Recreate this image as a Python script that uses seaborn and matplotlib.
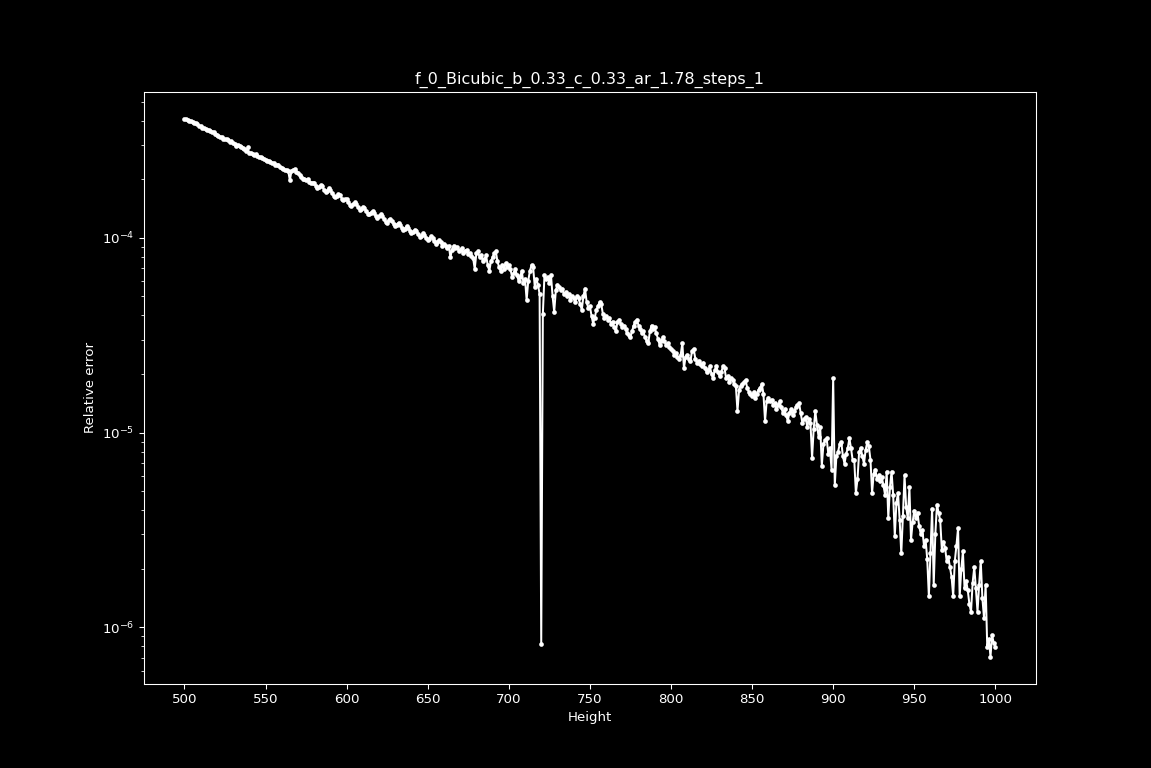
"""
Relative error vs height for the bicubic resize test (f_0, b=c=0.33).
"""
import numpy as np
import pandas as pd
import matplotlib
matplotlib.use("Agg")
import matplotlib.pyplot as plt
import seaborn as sns

# ---------------------------------------------------------
# Data (stored as log10 of relative error)
# one value per integer height, 500 .. 1000
# ---------------------------------------------------------
height_first = 500
height_last = 1000

log_err_500s = [
    -3.390, -3.392, -3.395, -3.398, -3.401, -3.405, -3.410, -3.412, -3.418, -3.424,
    -3.428, -3.436, -3.434, -3.442, -3.448, -3.446, -3.452, -3.458, -3.456, -3.466,
    -3.470, -3.478, -3.484, -3.482, -3.490, -3.494, -3.492, -3.500, -3.506, -3.504,
    -3.514, -3.520, -3.526, -3.522, -3.530, -3.536, -3.540, -3.544, -3.552, -3.536,
    -3.566, -3.562, -3.568, -3.574, -3.572, -3.580, -3.586, -3.584, -3.592, -3.596,
    -3.600, -3.606, -3.604, -3.612, -3.618, -3.616, -3.624, -3.628, -3.626, -3.634,
    -3.640, -3.646, -3.652, -3.650, -3.656, -3.705, -3.658, -3.652, -3.648, -3.660,
    -3.668, -3.676, -3.690, -3.698, -3.696, -3.704, -3.700, -3.712, -3.718, -3.716,
    -3.720, -3.732, -3.744, -3.740, -3.728, -3.736, -3.752, -3.764, -3.758, -3.746,
    -3.754, -3.770, -3.784, -3.792, -3.786, -3.774, -3.782, -3.798, -3.808, -3.802,
]
log_err_600s = [
    -3.800, -3.815, -3.830, -3.835, -3.828, -3.818, -3.826, -3.842, -3.856, -3.850,
    -3.840, -3.848, -3.862, -3.876, -3.880, -3.870, -3.862, -3.874, -3.890, -3.898,
    -3.890, -3.880, -3.888, -3.904, -3.918, -3.922, -3.910, -3.902, -3.914, -3.930,
    -3.940, -3.932, -3.922, -3.934, -3.950, -3.960, -3.952, -3.940, -3.948, -3.964,
    -3.976, -3.970, -3.958, -3.966, -3.982, -3.994, -3.990, -3.976, -3.984, -4.000,
    -4.012, -4.004, -3.992, -4.000, -4.018, -4.030, -4.022, -4.010, -4.020, -4.040,
    -4.030, -4.044, -4.052, -4.040, -4.100, -4.060, -4.040, -4.052, -4.048, -4.066,
    -4.060, -4.054, -4.076, -4.070, -4.062, -4.084, -4.078, -4.092, -4.104, -4.160,
    -4.080, -4.070, -4.100, -4.090, -4.120, -4.110, -4.090, -4.140, -4.170, -4.120,
    -4.100, -4.080, -4.070, -4.120, -4.150, -4.170, -4.140, -4.160, -4.130, -4.150,
]
log_err_700s = [
    -4.14, -4.16, -4.20, -4.18, -4.16, -4.19, -4.22, -4.20, -4.17, -4.23,
    -4.21, -4.32, -4.22, -4.17, -4.14, -4.15, -4.25, -4.21, -4.24, -4.29,
    -6.087, -4.39, -4.19, -4.21, -4.20, -4.23, -4.19, -4.30, -4.38, -4.27,
    -4.24, -4.25, -4.27, -4.26, -4.29, -4.28, -4.30, -4.29, -4.32, -4.30,
    -4.31, -4.33, -4.30, -4.31, -4.34, -4.37, -4.30, -4.26, -4.33, -4.36,
    -4.35, -4.40, -4.44, -4.41, -4.37, -4.35, -4.33, -4.34, -4.39, -4.41,
    -4.40, -4.42, -4.41, -4.44, -4.43, -4.46, -4.48, -4.43, -4.42, -4.44,
    -4.46, -4.45, -4.47, -4.49, -4.50, -4.51, -4.48, -4.45, -4.43, -4.42,
    -4.45, -4.47, -4.49, -4.48, -4.51, -4.53, -4.54, -4.48, -4.45, -4.47,
    -4.46, -4.49, -4.52, -4.55, -4.53, -4.51, -4.53, -4.55, -4.54, -4.56,
]
log_err_800s = [
    -4.57, -4.58, -4.60, -4.59, -4.61, -4.62, -4.60, -4.54, -4.67, -4.61,
    -4.60, -4.62, -4.63, -4.58, -4.57, -4.62, -4.64, -4.63, -4.65, -4.66,
    -4.64, -4.67, -4.69, -4.68, -4.66, -4.70, -4.72, -4.68, -4.66, -4.69,
    -4.71, -4.69, -4.66, -4.67, -4.72, -4.71, -4.74, -4.72, -4.73, -4.75,
    -4.76, -4.89, -4.78, -4.76, -4.75, -4.74, -4.73, -4.77, -4.79, -4.80,
    -4.81, -4.79, -4.82, -4.80, -4.78, -4.77, -4.75, -4.80, -4.94, -4.84,
    -4.82, -4.84, -4.83, -4.86, -4.85, -4.88, -4.86, -4.84, -4.87, -4.90,
    -4.88, -4.91, -4.94, -4.90, -4.88, -4.91, -4.89, -4.87, -4.86, -4.85,
    -4.90, -4.95, -4.93, -4.92, -4.97, -4.93, -4.95, -5.13, -4.98, -4.89,
    -4.96, -5.02, -4.97, -5.17, -5.06, -5.04, -5.03, -5.11, -5.08, -5.19,
]
log_err_900s = [
    -4.72, -5.27, -5.12, -5.10, -5.06, -5.05, -5.12, -5.16, -5.11, -5.08,
    -5.03, -5.08, -5.14, -5.14, -5.31, -5.24, -5.10, -5.08, -5.12, -5.16,
    -5.09, -5.05, -5.07, -5.14, -5.31, -5.21, -5.19, -5.24, -5.22, -5.25,
    -5.23, -5.27, -5.32, -5.20, -5.44, -5.28, -5.20, -5.32, -5.53, -5.36,
    -5.31, -5.45, -5.62, -5.43, -5.22, -5.38, -5.44, -5.28, -5.55, -5.46,
    -5.40, -5.44, -5.41, -5.48, -5.52, -5.50, -5.58, -5.55, -5.65, -5.84,
    -5.62, -5.39, -5.78, -5.52, -5.37, -5.41, -5.45, -5.60, -5.56, -5.59,
    -5.66, -5.64, -5.69, -5.74, -5.84, -5.66, -5.58, -5.49, -5.84, -5.70,
    -5.61, -5.80, -5.76, -5.81, -5.88, -5.92, -5.77, -5.69, -5.80, -5.92,
    -5.78, -5.66, -5.85, -5.95, -5.78, -6.10, -6.06, -6.15, -6.04, -6.08,
    -6.10,
]

title = "f_0_Bicubic_b_0.33_c_0.33_ar_1.78_steps_1"
x_ticks = [500, 550, 600, 650, 700, 750, 800, 850, 900, 950, 1000]

log_err = log_err_500s + log_err_600s + log_err_700s + log_err_800s + log_err_900s
df = pd.DataFrame({
    "Height": np.arange(height_first, height_last + 1),
    "Relative error": 10.0 ** np.array(log_err),
})

# ---------------------------------------------------------
# Plot
# ---------------------------------------------------------
plt.style.use("dark_background")
fig, ax = plt.subplots(figsize=(1151 / 96, 8), dpi=96)

sns.lineplot(data=df, x="Height", y="Relative error", ax=ax,
             color="white", linewidth=1.5, marker="o", markersize=3.5,
             markeredgewidth=0)

ax.set_yscale("log")
ax.set_xticks(x_ticks)
ax.set_title(title)
ax.set_xlabel("Height")
ax.set_ylabel("Relative error")

fig.savefig("out.png", dpi=96)
